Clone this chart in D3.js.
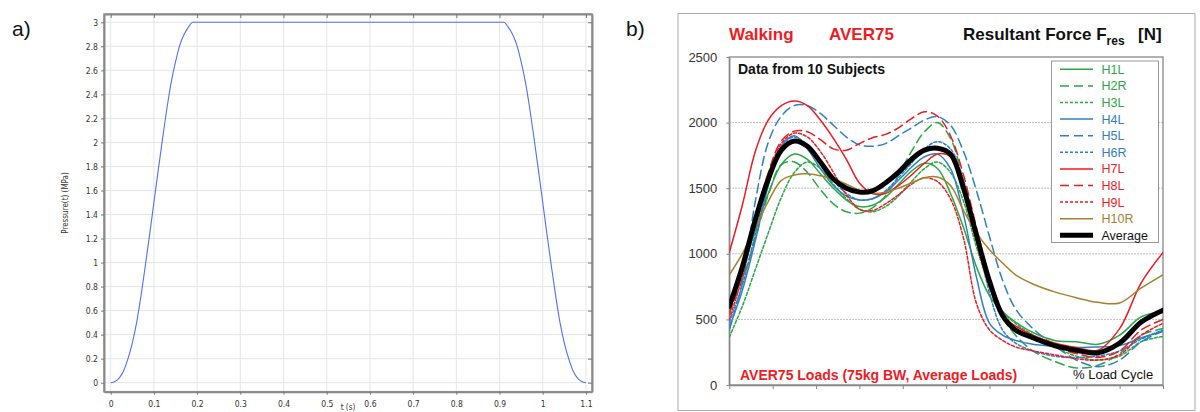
<!DOCTYPE html>
<html lang="en">
<head>
<meta charset="UTF-8">
<title>Pressure ramp and resultant force</title>
<script src="https://d3js.org/d3.v7.min.js"></script>
<style>
  body { margin: 0; background: #fff; }
  svg { display: block; }
</style>
</head>
<body>
<svg width="1200" height="412"></svg>
<script>
// ---- panel a data: pressure(t) in MPa ----
const tVals = [0, 0.01, 0.02, 0.03, 0.04, 0.05, 0.06, 0.07, 0.08, 0.09, 0.1, 0.11, 0.12, 0.13, 0.14, 0.15, 0.16, 0.17, 0.18, 0.19,
               0.91, 0.92, 0.93, 0.94, 0.95, 0.96, 0.97, 0.98, 0.99, 1.0, 1.01, 1.02, 1.03, 1.04, 1.05, 1.06, 1.07, 1.08, 1.09, 1.1];
const pVals = [0, 0.01, 0.04, 0.1, 0.2, 0.33, 0.5, 0.72, 0.97, 1.23, 1.5, 1.77, 2.03, 2.28, 2.5, 2.67, 2.81, 2.9, 2.96, 3.0,
               3.0, 2.96, 2.9, 2.81, 2.67, 2.5, 2.28, 2.03, 1.77, 1.5, 1.23, 0.97, 0.72, 0.5, 0.33, 0.2, 0.1, 0.04, 0.01, 0];
const xTicksA = [0, 0.1, 0.2, 0.3, 0.4, 0.5, 0.6, 0.7, 0.8, 0.9, 1, 1.1];
const yTicksA = [0, 0.2, 0.4, 0.6, 0.8, 1, 1.2, 1.4, 1.6, 1.8, 2, 2.2, 2.4, 2.6, 2.8, 3];

// ---- panel b data: resultant force [N] over % load cycle ----
const pct  = [0, 3, 6, 9, 12, 15, 18, 21, 24, 27, 30, 33, 36, 39, 42, 45, 48, 51, 54, 57, 60, 63, 66, 70, 75, 80, 85, 90, 95, 100];
const h1l  = [580, 860, 1180, 1460, 1680, 1760, 1720, 1610, 1500, 1410, 1360, 1370, 1430, 1530, 1630, 1690, 1650, 1460, 1200, 900, 680, 560, 480, 400, 340, 330, 310, 380, 520, 560];
const h2r  = [560, 800, 1120, 1450, 1680, 1700, 1620, 1490, 1380, 1320, 1310, 1350, 1440, 1600, 1780, 1930, 2000, 1880, 1550, 1150, 780, 520, 380, 260, 180, 130, 150, 240, 380, 430];
const h3l  = [365, 600, 880, 1160, 1430, 1620, 1700, 1650, 1530, 1420, 1340, 1320, 1360, 1440, 1550, 1650, 1700, 1620, 1400, 1050, 760, 560, 470, 380, 290, 220, 190, 220, 330, 370];
const h4l  = [440, 720, 1100, 1520, 1820, 1900, 1800, 1650, 1520, 1440, 1410, 1420, 1470, 1560, 1660, 1740, 1760, 1650, 1300, 820, 470, 380, 340, 310, 295, 285, 290, 300, 360, 410];
const h5l  = [420, 780, 1400, 1850, 2050, 2130, 2130, 2070, 1980, 1890, 1830, 1820, 1840, 1900, 1960, 2020, 2045, 1980, 1780, 1480, 1130, 800, 580, 430, 300, 190, 140, 190, 330, 410];
const h6r  = [480, 760, 1150, 1550, 1820, 1890, 1830, 1700, 1560, 1460, 1410, 1420, 1480, 1580, 1690, 1800, 1855, 1800, 1560, 1150, 700, 420, 320, 260, 220, 210, 220, 260, 350, 420];
const h7l  = [1010, 1370, 1780, 2020, 2130, 2165, 2130, 2020, 1880, 1720, 1540, 1460, 1460, 1520, 1600, 1690, 1760, 1740, 1480, 1100, 750, 530, 450, 380, 320, 285, 265, 430, 780, 1010];
const h8l  = [540, 850, 1250, 1620, 1860, 1935, 1930, 1870, 1800, 1790, 1840, 1885, 1910, 1960, 2030, 2083, 2050, 1900, 1600, 1200, 820, 560, 430, 350, 290, 240, 210, 260, 420, 500];
const h9l  = [500, 820, 1230, 1600, 1840, 1920, 1890, 1780, 1620, 1450, 1340, 1330, 1380, 1450, 1530, 1580, 1550, 1420, 1120, 620, 420, 340, 290, 260, 230, 200, 190, 230, 380, 470];
const h10r = [840, 1000, 1200, 1400, 1560, 1600, 1610, 1595, 1570, 1530, 1485, 1460, 1470, 1500, 1540, 1580, 1585, 1520, 1330, 1160, 1030, 930, 840, 770, 710, 665, 630, 625, 740, 840];
const avg  = [600, 900, 1260, 1570, 1790, 1860, 1820, 1700, 1570, 1500, 1470, 1480, 1540, 1620, 1720, 1790, 1805, 1760, 1500, 1140, 790, 530, 420, 360, 300, 265, 245, 320, 480, 570];
const seriesNames = ['H1L', 'H2R', 'H3L', 'H4L', 'H5L', 'H6R', 'H7L', 'H8L', 'H9L', 'H10R', 'Average'];
const seriesVals = [h1l, h2r, h3l, h4l, h5l, h6r, h7l, h8l, h9l, h10r, avg];
const yTicksB = [0, 500, 1000, 1500, 2000, 2500];
const xTicksB = [0, 10, 20, 30, 40, 50, 60, 70, 80, 90, 100];

const svg = d3.select('svg');

// ================= panel a =================
const ga = svg.append('g');
const xA = d3.scaleLinear().domain([-0.0155, 1.114]).range([104, 592]);
const yA = d3.scaleLinear().domain([-0.075, 3.069]).range([391.7, 14]);

ga.append('text').attr('x', 12).attr('y', 36)
  .attr('font-family', 'Liberation Sans, sans-serif').attr('font-size', 21).attr('fill', '#111')
  .text('a)');

// grid
ga.selectAll('.gx').data(xTicksA).enter().append('line')
  .attr('x1', d => xA(d)).attr('x2', d => xA(d))
  .attr('y1', 14).attr('y2', 391.7)
  .attr('stroke', '#e6e6e6').attr('stroke-width', 1);
ga.selectAll('.gy').data(yTicksA).enter().append('line')
  .attr('x1', 104).attr('x2', 592)
  .attr('y1', d => yA(d)).attr('y2', d => yA(d))
  .attr('stroke', '#e6e6e6').attr('stroke-width', 1);

// frame
ga.append('rect').attr('x', 104).attr('y', 14).attr('width', 488).attr('height', 377.7)
  .attr('fill', 'none').attr('stroke', '#9a9a9a').attr('stroke-width', 1.5);

const tickFont = 'DejaVu Sans Condensed, DejaVu Sans, sans-serif';
// axes
const axBottom = ga.append('g').attr('transform', 'translate(0,391.7)')
  .call(d3.axisBottom(xA).tickValues(xTicksA).tickSize(3).tickSizeOuter(0).tickFormat(d3.format('~g')));
const axLeft = ga.append('g').attr('transform', 'translate(104,0)')
  .call(d3.axisLeft(yA).tickValues(yTicksA).tickSize(3).tickSizeOuter(0).tickFormat(d3.format('~g')));
const axTop = ga.append('g').attr('transform', 'translate(0,14)')
  .call(d3.axisBottom(xA).tickValues(xTicksA).tickSize(4).tickSizeOuter(0).tickFormat(''));
const axRight = ga.append('g').attr('transform', 'translate(592,0)')
  .call(d3.axisLeft(yA).tickValues(yTicksA).tickSize(4).tickSizeOuter(0).tickFormat(''));
[axBottom, axLeft, axTop, axRight].forEach(a => {
  a.select('.domain').attr('stroke', '#8a8a8a').attr('stroke-width', 2);
  a.selectAll('.tick line').attr('stroke', '#777');
  a.selectAll('text').attr('font-family', tickFont).attr('font-size', 8.5).attr('fill', '#333');
});
axBottom.selectAll('text').attr('dy', '1.1em');

ga.append('text')
  .attr('transform', 'translate(68,203) rotate(-90)')
  .attr('text-anchor', 'middle')
  .attr('font-family', tickFont).attr('font-size', 8).attr('fill', '#333')
  .text('Pressure(t) (MPa)');
ga.append('text').attr('x', 348).attr('y', 410).attr('text-anchor', 'middle')
  .attr('font-family', tickFont).attr('font-size', 8).attr('fill', '#333')
  .text('t (s)');

const lineA = d3.line().x((d, i) => xA(tVals[i])).y(d => yA(d)).curve(d3.curveMonotoneX);
ga.append('path').datum(pVals).attr('d', lineA)
  .attr('fill', 'none').attr('stroke', '#5072f2').attr('stroke-width', 1.1);

// ================= panel b =================
const gb = svg.append('g');
const font = 'Liberation Sans, Arial, sans-serif';
const xB = d3.scaleLinear().domain([0, 100]).range([729.3, 1163]);
const yB = d3.scaleLinear().domain([0, 2500]).range([385, 57]);

gb.append('text').attr('x', 626).attr('y', 36)
  .attr('font-family', font).attr('font-size', 21).attr('fill', '#111')
  .text('b)');

// outer figure frame
gb.append('rect').attr('x', 678).attr('y', 13.5).attr('width', 517).attr('height', 397)
  .attr('fill', 'none').attr('stroke', '#aaa').attr('stroke-width', 1);

// titles
gb.append('text').attr('x', 729).attr('y', 40).attr('font-family', font)
  .attr('font-weight', 'bold').attr('font-size', 17).attr('fill', '#ee1c25').text('Walking');
gb.append('text').attr('x', 829).attr('y', 40).attr('font-family', font)
  .attr('font-weight', 'bold').attr('font-size', 17).attr('fill', '#ee1c25').text('AVER75');
const tRes = gb.append('text').attr('x', 963).attr('y', 40).attr('font-family', font)
  .attr('font-weight', 'bold').attr('font-size', 17).attr('fill', '#111');
tRes.append('tspan').text('Resultant Force F');
tRes.append('tspan').attr('font-size', 12).attr('dy', 5).text('res');
gb.append('text').attr('x', 1138).attr('y', 40).attr('font-family', font)
  .attr('font-weight', 'bold').attr('font-size', 17).attr('fill', '#111').text('[N]');

// grid (dotted)
gb.selectAll('.gridb').data(yTicksB.filter(d => d > 0 && d < 2500)).enter().append('line')
  .attr('x1', xB(0)).attr('x2', xB(100))
  .attr('y1', d => yB(d)).attr('y2', d => yB(d))
  .attr('stroke', '#aaa').attr('stroke-width', 1).attr('stroke-dasharray', '1.5,1.5');

// plot frame
gb.append('rect').attr('x', xB(0)).attr('y', yB(2500)).attr('width', xB(100) - xB(0)).attr('height', yB(0) - yB(2500))
  .attr('fill', 'none').attr('stroke', '#888').attr('stroke-width', 1.3);

const axB = gb.append('g').attr('transform', `translate(0,${yB(0)})`)
  .call(d3.axisBottom(xB).tickValues(xTicksB).tickSize(4).tickSizeOuter(0).tickFormat(''));
const ayB = gb.append('g').attr('transform', `translate(${xB(0)},0)`)
  .call(d3.axisLeft(yB).tickValues(yTicksB).tickSize(3).tickSizeOuter(0).tickPadding(9).tickFormat(d3.format('d')));
[axB, ayB].forEach(a => {
  a.select('.domain').attr('stroke', '#888').attr('stroke-width', 1.3);
  a.selectAll('.tick line').attr('stroke', '#888');
  a.selectAll('text').attr('font-family', font).attr('font-size', 13).attr('fill', '#333');
});

// series
const green = '#2aa845', blue = '#2f80c2', red = '#ec1c24', brown = '#a8802c';
const styles = [
  { c: green, dash: null }, { c: green, dash: '9,5' }, { c: green, dash: '3,2' },
  { c: blue, dash: null }, { c: blue, dash: '9,5' }, { c: blue, dash: '3,2' },
  { c: red, dash: null }, { c: red, dash: '9,5' }, { c: red, dash: '3,2' },
  { c: brown, dash: null }, { c: '#000', dash: null, w: 5 }
];

svg.append('defs').append('clipPath').attr('id', 'clipB')
  .append('rect').attr('x', xB(0)).attr('y', yB(2500)).attr('width', xB(100) - xB(0)).attr('height', yB(0) - yB(2500));

const lineB = d3.line().x((d, i) => xB(pct[i])).y(d => yB(d)).curve(d3.curveCatmullRom.alpha(0.5));
gb.append('g').attr('clip-path', 'url(#clipB)')
  .selectAll('path').data(seriesVals).enter().append('path')
  .attr('d', lineB)
  .attr('fill', 'none')
  .attr('stroke', (d, i) => styles[i].c)
  .attr('stroke-width', (d, i) => styles[i].w || 1.5)
  .attr('stroke-dasharray', (d, i) => styles[i].dash)
  .attr('stroke-linejoin', 'round').attr('stroke-linecap', 'round');

// in-plot texts
gb.append('text').attr('x', 738).attr('y', 74).attr('font-family', font)
  .attr('font-weight', 'bold').attr('font-size', 14).attr('fill', '#111').text('Data from 10 Subjects');
gb.append('text').attr('x', 740).attr('y', 380).attr('font-family', font)
  .attr('font-weight', 'bold').attr('font-size', 14).attr('fill', '#ee1c25').text('AVER75 Loads (75kg BW, Average Loads)');
gb.append('text').attr('x', 1073).attr('y', 379).attr('font-family', font)
  .attr('font-size', 13).attr('fill', '#111').text('% Load Cycle');

// legend
const leg = gb.append('g');
leg.append('rect').attr('x', 1051.5).attr('y', 61).attr('width', 107).attr('height', 181.5)
  .attr('fill', '#fff').attr('stroke', '#999').attr('stroke-width', 1);
const items = leg.selectAll('.item').data(seriesNames).enter().append('g')
  .attr('transform', (d, i) => `translate(0,${69.3 + i * 16.6})`);
items.append('line').attr('x1', 1060).attr('x2', 1093).attr('y1', 0).attr('y2', 0)
  .attr('stroke', (d, i) => styles[i].c)
  .attr('stroke-width', (d, i) => styles[i].w || 1.5)
  .attr('stroke-dasharray', (d, i) => styles[i].dash);
items.append('text').attr('x', 1101.5).attr('y', 4.5)
  .attr('font-family', font).attr('font-size', 12.5)
  .attr('fill', (d, i) => i === 10 ? '#111' : styles[i].c)
  .text(d => d);
</script>
</body>
</html>
